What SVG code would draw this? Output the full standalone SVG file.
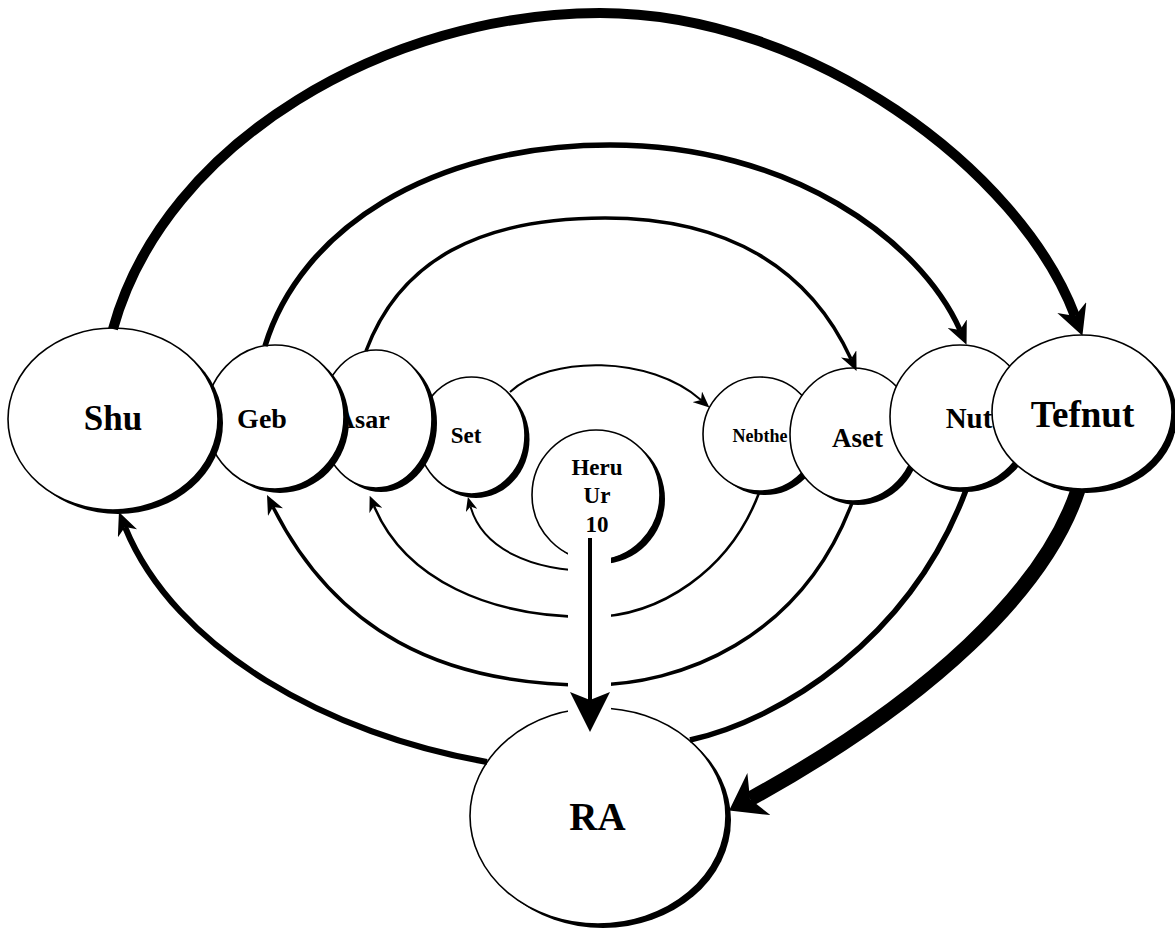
<svg xmlns="http://www.w3.org/2000/svg" width="1175" height="932" viewBox="0 0 1175 932">
<style>
  .sh{fill:#000}
  .nd{fill:#fff;stroke:#000;stroke-width:1.6}
  .lb{font-family:"Liberation Serif","Times New Roman",serif;font-weight:bold;fill:#000;text-anchor:middle}
  .c{fill:none;stroke:#000;stroke-linecap:butt}
  .ah{fill:#000}
</style>
<defs>
  <marker id="a13" viewBox="0 0 10 10" refX="3" refY="5" markerUnits="userSpaceOnUse" markerWidth="14" markerHeight="12" preserveAspectRatio="none" orient="auto"><path class="ah" d="M0,0 L10,5 L0,10 L3,5 z"/></marker>
  <marker id="a15" viewBox="0 0 10 10" refX="3" refY="5" markerUnits="userSpaceOnUse" markerWidth="16" markerHeight="14" preserveAspectRatio="none" orient="auto"><path class="ah" d="M0,0 L10,5 L0,10 L3,5 z"/></marker>
  <marker id="a18" viewBox="0 0 10 10" refX="3" refY="5" markerUnits="userSpaceOnUse" markerWidth="19" markerHeight="17" preserveAspectRatio="none" orient="auto"><path class="ah" d="M0,0 L10,5 L0,10 L3,5 z"/></marker>
  <marker id="a22" viewBox="0 0 10 10" refX="3" refY="5" markerUnits="userSpaceOnUse" markerWidth="23" markerHeight="21" preserveAspectRatio="none" orient="auto"><path class="ah" d="M0,0 L10,5 L0,10 L3,5 z"/></marker>
  <marker id="a30" viewBox="0 0 10 10" refX="3" refY="5" markerUnits="userSpaceOnUse" markerWidth="30" markerHeight="31" preserveAspectRatio="none" orient="auto"><path class="ah" d="M0,0 L10,5 L0,10 L3,5 z"/></marker>
  <marker id="a40" viewBox="0 0 10 10" refX="3" refY="5" markerUnits="userSpaceOnUse" markerWidth="40" markerHeight="40" preserveAspectRatio="none" orient="auto"><path class="ah" d="M0,0 L10,5 L0,10 L2,5 z"/></marker>
  <marker id="a48" viewBox="0 0 10 10" refX="3" refY="5" markerUnits="userSpaceOnUse" markerWidth="34" markerHeight="48" preserveAspectRatio="none" orient="auto"><path class="ah" d="M0,0 L10,5 L0,10 L3,5 z"/></marker>
</defs>
<rect width="1175" height="932" fill="#fff"/>

<g id="node-set"><ellipse class="sh" cx="476" cy="439.5" rx="53.5" ry="58.5"/><ellipse class="nd" cx="471.5" cy="435.5" rx="53.5" ry="58.5"/><text class="lb" x="466" y="443" font-size="23">Set</text></g>
<g id="node-asar"><ellipse class="sh" cx="381" cy="423" rx="56" ry="69"/><ellipse class="nd" cx="376" cy="419" rx="56" ry="69"/><text class="lb" x="363" y="428" font-size="26">Asar</text></g>
<g id="node-geb"><ellipse class="sh" cx="280" cy="421" rx="69" ry="72"/><ellipse class="nd" cx="275" cy="417" rx="69" ry="72"/><text class="lb" x="262" y="428" font-size="28">Geb</text></g>
<g id="node-shu"><ellipse class="sh" cx="118" cy="423" rx="105" ry="91"/><ellipse class="nd" cx="113" cy="419" rx="105" ry="91"/><text class="lb" x="113" y="430" font-size="35">Shu</text></g>
<g id="node-heru"><ellipse class="sh" cx="601" cy="499" rx="64" ry="65"/><ellipse class="nd" cx="596" cy="495" rx="64" ry="65"/><text class="lb" x="597" y="475" font-size="23">Heru</text><text class="lb" x="597" y="503" font-size="23">Ur</text><text class="lb" x="597" y="532" font-size="23">10</text></g>
<g id="node-nebthet"><ellipse class="sh" cx="765" cy="438" rx="57" ry="57"/><ellipse class="nd" cx="760" cy="434" rx="57" ry="57"/><text class="lb" x="760" y="442" font-size="18">Nebthe</text></g>
<g id="node-aset"><ellipse class="sh" cx="858" cy="438.5" rx="63" ry="66.5"/><ellipse class="nd" cx="853" cy="434.5" rx="63" ry="66.5"/><text class="lb" x="857.5" y="447" font-size="27">Aset</text></g>
<g id="node-nut"><ellipse class="sh" cx="965" cy="420.5" rx="70" ry="71.5"/><ellipse class="nd" cx="960" cy="416.5" rx="70" ry="71.5"/><text class="lb" x="969" y="428" font-size="29">Nut</text></g>
<g id="node-tefnut"><ellipse class="sh" cx="1087" cy="416" rx="90" ry="77"/><ellipse class="nd" cx="1082" cy="412" rx="90" ry="77"/><text class="lb" x="1082.5" y="427" font-size="37">Tefnut</text></g>
<g id="node-ra"><ellipse class="sh" cx="603" cy="820" rx="128" ry="108"/><ellipse class="nd" cx="598" cy="816" rx="128" ry="108"/><text class="lb" x="597.5" y="830" font-size="39">RA</text></g>

<g id="connectors">
  <path class="c" stroke-width="10" marker-end="url(#a30)" d="M113,329 C165,140 390,13 600,13 C810,13 1020,170 1075,316"/>
  <path class="c" stroke-width="5.5" marker-end="url(#a22)" d="M265,346 C300,230 430,145 610,145 C790,145 920,240 960,330"/>
  <path class="c" stroke-width="3.5" marker-end="url(#a18)" d="M366,351 C400,260 480,218 605,218 C730,218 810,270 851,359"/>
  <path class="c" stroke-width="2" marker-end="url(#a15)" d="M510,392 C550,355 650,355 701,400"/>
  <path class="c" stroke-width="2" marker-end="url(#a13)" d="M595,571 C530,571 482,548 470.5,506.5"/>
  <path class="c" stroke-width="2.5" marker-end="url(#a15)" d="M759,493 C730,570 660,617 590,617 C490,617 405,580 374,506"/>
  <path class="c" stroke-width="3.5" marker-end="url(#a18)" d="M852,503 C800,640 680,685 590,685 C440,685 335,630 273,507"/>
  <path class="c" stroke-width="5.5" d="M966,490 C910,640 780,720 690,740"/>
  <path class="c" stroke-width="6" marker-end="url(#a22)" d="M487,762 C330,735 175,650 125,527"/>
  <path class="c" stroke-width="15" marker-end="url(#a48)" d="M1078,490 C1045,590 930,700 750,799"/>
  <rect x="568" y="538" width="43" height="174" fill="#fff"/>
  <path class="c" stroke-width="4" marker-end="url(#a40)" d="M590,538 L590,704"/>
</g>
</svg>
